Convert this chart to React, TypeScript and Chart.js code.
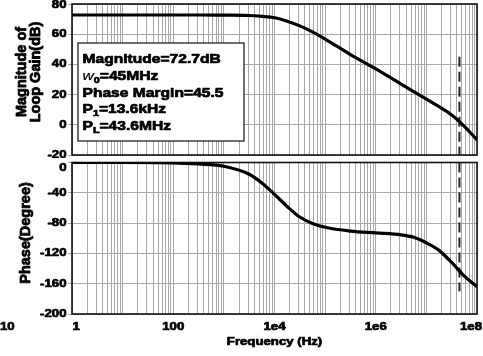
import React, { useEffect, useRef } from "react";
import { Chart, registerables } from "chart.js";

Chart.register(...registerables);

// ---------- data ----------
const freqHz = [
  1, 10, 100, 316, 1000, 3162, 5623, 10000, 17783, 31623, 56234, 100000,
  316228, 1000000, 3162278, 5623413, 10000000, 17782794, 31622777, 56234133,
  100000000,
];
const magnitudeDb = [
  72.7, 72.7, 72.7, 72.7, 72.6, 72.4, 71.8, 70.9, 68.6, 65.5, 61.5, 56.8,
  46.5, 37, 27, 22, 17, 12, 6.5, -1, -10,
];
const phaseDeg = [
  0, 0, -0.5, -2, -5, -15.5, -27, -42, -58, -72, -80.5, -85.5, -90.5, -93,
  -95.5, -98.8, -106, -116, -132, -150, -164,
];
const crossoverHz = 45000000;
const magnitudeMarkerDb = [45, -20];
const phaseMarkerDeg = [0, -170];

const magTicks = [80, 60, 40, 20, 0, -20];
const phaseTicks = [0, -40, -80, -120, -160, -200];
const freqTickValues = [1, 100, 10000, 1000000, 100000000];
const freqTickLabels = ["1", "100", "1e4", "1e6", "1e8"];
const strayLabel = "10";

const magTitle = ["Magnitude of", "Loop Gain(dB)"];
const phaseTitle = "Phase(Degree)";
const freqTitle = "Frequency (Hz)";

type Seg = { t: string; kind?: "sub" | "italic" };
const infoLines: Seg[][] = [
  [{ t: "Magnitude=72.7dB" }],
  [{ t: "w", kind: "italic" }, { t: "0", kind: "sub" }, { t: "=45MHz" }],
  [{ t: "Phase Margin=45.5" }],
  [{ t: "P" }, { t: "1", kind: "sub" }, { t: "=13.6kHz" }],
  [{ t: "P" }, { t: "L", kind: "sub" }, { t: "=43.6MHz" }],
];

// ---------- helpers ----------
const FAM = "'Liberation Sans', Arial, sans-serif";
const SX = 1.2;
const GRID = "#a8a8a8";
const HEAVY = 0.7;

function gridValues(): number[] {
  const v: number[] = [];
  for (let e = 0; e < 8; e++) for (let m = 1; m < 10; m++) v.push(m * Math.pow(10, e));
  v.push(100000000);
  return v;
}

function sText(
  ctx: CanvasRenderingContext2D,
  text: string,
  x: number,
  y: number,
  font: string,
  align: CanvasTextAlign = "center",
  baseline: CanvasTextBaseline = "middle",
  sx = SX,
  heavy = HEAVY
) {
  ctx.save();
  ctx.font = font;
  ctx.textAlign = align;
  ctx.textBaseline = baseline;
  ctx.fillStyle = "#000";
  ctx.strokeStyle = "#000";
  ctx.lineWidth = heavy;
  ctx.lineJoin = "round";
  ctx.translate(x, y);
  ctx.scale(sx, 1);
  ctx.fillText(text, 0, 0);
  if (heavy > 0) ctx.strokeText(text, 0, 0);
  ctx.restore();
}
function sWidth(ctx: CanvasRenderingContext2D, text: string, font: string, sx = SX) {
  ctx.save();
  ctx.font = font;
  const w = ctx.measureText(text).width * sx;
  ctx.restore();
  return w;
}
function rotText(ctx: CanvasRenderingContext2D, text: string, x: number, y: number, font: string) {
  ctx.save();
  ctx.font = font;
  ctx.textAlign = "center";
  ctx.textBaseline = "middle";
  ctx.fillStyle = "#000";
  ctx.strokeStyle = "#000";
  ctx.lineWidth = 0.8;
  ctx.lineJoin = "round";
  ctx.translate(x, y);
  ctx.rotate(-Math.PI / 2);
  ctx.fillText(text, 0, 0);
  ctx.strokeText(text, 0, 0);
  ctx.restore();
}

const tickFont = `bold 11px ${FAM}`;
const titleFont = `bold 14.5px ${FAM}`;

const framePlugin = {
  id: "frame",
  beforeDatasetsDraw(chart: any) {
    const { ctx, chartArea: a } = chart;
    ctx.save();
    ctx.strokeStyle = "#111";
    ctx.lineWidth = 1.6;
    ctx.strokeRect(a.left, a.top, a.right - a.left, a.bottom - a.top);
    ctx.restore();
  },
};

function yLabels(chart: any, ticks: number[], minY: number) {
  const ctx = chart.ctx as CanvasRenderingContext2D;
  const y = chart.scales.y;
  ticks.forEach((v) => {
    const py = Math.max(y.getPixelForValue(v), minY);
    sText(ctx, String(v), 66.5, py, tickFont, "right");
  });
}

function makeOptions(yMin: number, yMax: number, yTicks: number[], padding: any, xHeight: number): any {
  const gv = gridValues();
  return {
    responsive: false,
    devicePixelRatio: 1,
    animation: false,
    events: [],
    layout: { padding, autoPadding: false },
    plugins: { legend: { display: false }, tooltip: { enabled: false } },
    elements: { point: { radius: 0 } },
    scales: {
      x: {
        type: "logarithmic",
        min: 1,
        max: 100000000,
        afterBuildTicks: (s: any) => {
          s.ticks = gv.map((value) => ({ value }));
        },
        afterFit: (s: any) => {
          s.height = xHeight;
        },
        ticks: { display: false, autoSkip: false },
        grid: { color: GRID, lineWidth: 1, drawTicks: false },
        border: { display: false },
      },
      y: {
        type: "linear",
        min: yMin,
        max: yMax,
        afterBuildTicks: (s: any) => {
          s.ticks = yTicks.map((value) => ({ value }));
        },
        afterFit: (s: any) => {
          s.width = 72;
        },
        ticks: { display: false },
        grid: { color: GRID, lineWidth: 1, drawTicks: true, tickLength: 4 },
        border: { display: false },
      },
    },
  };
}

export default function App() {
  const topRef = useRef<HTMLCanvasElement>(null);
  const botRef = useRef<HTMLCanvasElement>(null);

  useEffect(() => {
    const magData = freqHz.map((f, i) => ({ x: f, y: magnitudeDb[i] }));
    const phData = freqHz.map((f, i) => ({ x: f, y: phaseDeg[i] }));

    const topLabels = {
      id: "topLabels",
      afterDraw(chart: any) {
        const ctx = chart.ctx as CanvasRenderingContext2D;
        yLabels(chart, magTicks, 5);
        rotText(ctx, magTitle[0], 22, 72, titleFont);
        rotText(ctx, magTitle[1], 35.5, 72, titleFont);
        // info box
        ctx.save();
        ctx.fillStyle = "#fff";
        ctx.fillRect(78, 43, 166, 98);
        ctx.strokeStyle = "#222";
        ctx.lineWidth = 1.3;
        ctx.strokeRect(78, 43, 166, 98);
        ctx.restore();
        const mainF = `bold 13px ${FAM}`;
        const subF = `bold 9px ${FAM}`;
        const itF = `italic 13px ${FAM}`;
        infoLines.forEach((line, i) => {
          let x = 82.5;
          const base = 63.3 + i * 16.7;
          line.forEach((seg) => {
            const f = seg.kind === "sub" ? subF : seg.kind === "italic" ? itF : mainF;
            const dy = seg.kind === "sub" ? 2.5 : 0;
            sText(ctx, seg.t, x, base + dy, f, "left", "alphabetic", SX, seg.kind === "italic" ? 0.2 : HEAVY);
            x += sWidth(ctx, seg.t, f);
          });
        });
      },
    };

    const botLabels = {
      id: "botLabels",
      afterDraw(chart: any) {
        const ctx = chart.ctx as CanvasRenderingContext2D;
        const a = chart.chartArea;
        yLabels(chart, phaseTicks, 10);
        rotText(ctx, phaseTitle, 26, 75, titleFont);
        const xs = chart.scales.x;
        freqTickValues.forEach((v, i) => {
          const t = freqTickLabels[i];
          const w = sWidth(ctx, t, tickFont);
          let cx = xs.getPixelForValue(v);
          cx = Math.max(cx, a.left + w / 2 + 0.5);
          cx = Math.min(cx, chart.width - 1 - w / 2);
          sText(ctx, t, cx, a.bottom + 13, tickFont, "center");
        });
        sText(ctx, strayLabel, 0, a.bottom + 13, tickFont, "left");
        sText(ctx, freqTitle, (a.left + a.right) / 2, a.bottom + 28, `bold 11px ${FAM}`, "center");
      },
    };

    const top = new Chart(topRef.current!, {
      type: "line",
      data: {
        datasets: [
          {
            data: magData,
            borderColor: "#000",
            borderWidth: 3.2,
            cubicInterpolationMode: "monotone",
            fill: false,
          },
          {
            data: magnitudeMarkerDb.map((y) => ({ x: crossoverHz, y })),
            borderColor: "#222",
            borderWidth: 2,
            borderDash: [10, 5],
            fill: false,
          },
        ],
      },
      options: makeOptions(-20, 80, magTicks, { top: 4, right: 6, bottom: 3, left: 0 }, 0),
      plugins: [framePlugin, topLabels],
    } as any);

    const bot = new Chart(botRef.current!, {
      type: "line",
      data: {
        datasets: [
          {
            data: phData,
            borderColor: "#000",
            borderWidth: 3.2,
            cubicInterpolationMode: "monotone",
            fill: false,
          },
          {
            data: phaseMarkerDeg.map((y) => ({ x: crossoverHz, y })),
            borderColor: "#222",
            borderWidth: 2,
            borderDash: [10, 5],
            fill: false,
          },
        ],
      },
      options: makeOptions(-200, 0, phaseTicks, { top: 4.5, right: 6, bottom: 0, left: 0 }, 42),
      plugins: [framePlugin, botLabels],
    } as any);

    return () => {
      top.destroy();
      bot.destroy();
    };
  }, []);

  return (
    <div style={{ position: "absolute", left: 0, top: 0, width: 483, height: 356, background: "#fff" }}>
      <canvas
        ref={topRef}
        width={483}
        height={158}
        style={{ position: "absolute", left: 0, top: 0, width: 483, height: 158, display: "block" }}
      />
      <canvas
        ref={botRef}
        width={483}
        height={198}
        style={{ position: "absolute", left: 0, top: 158, width: 483, height: 198, display: "block" }}
      />
    </div>
  );
}
